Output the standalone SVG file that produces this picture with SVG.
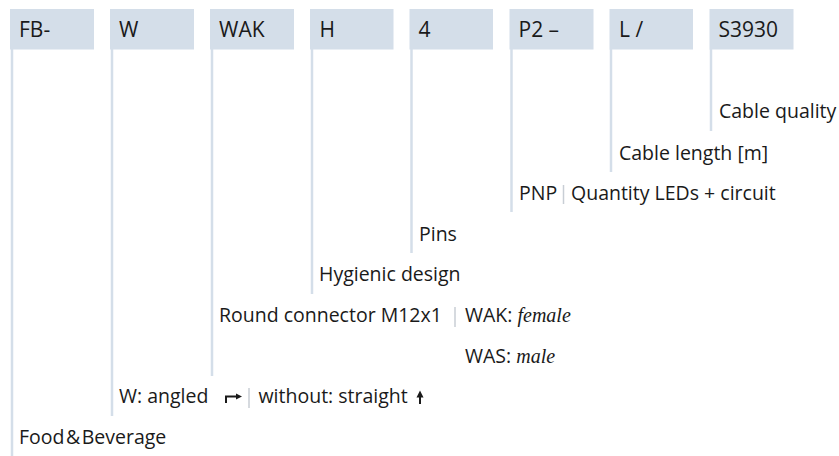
<svg xmlns="http://www.w3.org/2000/svg" width="839" height="456" viewBox="0 0 839 456">
<style>
.box{fill:#d4dee9}
.bl{font-family:"Open Sans","Noto Sans",sans-serif;font-size:21px;fill:#1a1a1a}
.t{font-family:"Open Sans","Noto Sans",sans-serif;font-size:19.5px;fill:#1a1a1a}
.sep{stroke:#c8ced5;stroke-width:1.5}
.it{font-family:"Liberation Serif",serif;font-style:italic;font-size:20px}
.ln{stroke:#d4dee9;stroke-width:2.5;fill:none}
.ic{stroke:#1a1a1a;stroke-width:2;fill:none}
.ih{fill:#1a1a1a}
</style>
<rect width="839" height="456" fill="#ffffff"/>
<g id="connectors">
<line class="ln" x1="12" y1="49" x2="12" y2="456"/>
<line class="ln" x1="112" y1="49" x2="112" y2="416"/>
<line class="ln" x1="212" y1="49" x2="212" y2="376"/>
<line class="ln" x1="312" y1="49" x2="312" y2="294"/>
<line class="ln" x1="411.5" y1="49" x2="411.5" y2="253"/>
<line class="ln" x1="511.5" y1="49" x2="511.5" y2="212"/>
<line class="ln" x1="611" y1="49" x2="611" y2="172"/>
<line class="ln" x1="711" y1="49" x2="711" y2="131"/>
</g>
<g id="n-fb"><rect class="box" x="10" y="9" width="84" height="40.5"/><text class="bl" x="19" y="36.5">FB-</text></g>
<g id="n-w"><rect class="box" x="110" y="9" width="84" height="40.5"/><text class="bl" x="119" y="36.5">W</text></g>
<g id="n-wak"><rect class="box" x="210" y="9" width="84" height="40.5"/><text class="bl" x="219" y="36.5">WAK</text></g>
<g id="n-h"><rect class="box" x="310" y="9" width="83.5" height="40.5"/><text class="bl" x="319.5" y="36.5">H</text></g>
<g id="n-4"><rect class="box" x="409.5" y="9" width="83.5" height="40.5"/><text class="bl" x="418.5" y="36.5">4</text></g>
<g id="n-p2"><rect class="box" x="509.5" y="9" width="84" height="40.5"/><text class="bl" x="518.5" y="36.5">P2 –</text></g>
<g id="n-l"><rect class="box" x="609.5" y="9" width="83.5" height="40.5"/><text class="bl" x="619" y="36.5">L /</text></g>
<g id="n-s"><rect class="box" x="709.5" y="9" width="84" height="40.5"/><text class="bl" x="718.5" y="36.5">S3930</text></g>
<g id="labels">
<text class="t" x="719" y="118">Cable quality</text>
<text class="t" x="619" y="159.5">Cable length [m]</text>
<text class="t" x="519" y="199.5">PNP</text>
<line class="sep" x1="563.5" y1="185" x2="563.5" y2="204"/>
<text class="t" x="571" y="199.5">Quantity LEDs + circuit</text>
<text class="t" x="419" y="240.5">Pins</text>
<text class="t" x="319" y="281">Hygienic design</text>
<text class="t" x="219" y="322">Round connector M12x1</text>
<line class="sep" x1="455" y1="307" x2="455" y2="327"/>
<text class="t" x="465" y="322">WAK: <tspan class="it">female</tspan></text>
<text class="t" x="465" y="362.5">WAS: <tspan class="it">male</tspan></text>
<text class="t" x="119" y="403">W: angled</text>
<path class="ic" d="M226 403 V396.5 H237"/>
<path class="ih" d="M242 396.5 L236 393.5 L236 399.5 Z"/>
<line class="sep" x1="249" y1="388" x2="249" y2="408"/>
<text class="t" x="258.5" y="403">without: straight</text>
<path class="ic" d="M420 404 V396"/>
<path class="ih" d="M420 390.5 L416.5 397.5 L423.5 397.5 Z"/>
<text class="t" x="19" y="444">Food<tspan dx="1.5">&amp;</tspan><tspan dx="1.5">Beverage</tspan></text>
</g>
</svg>
